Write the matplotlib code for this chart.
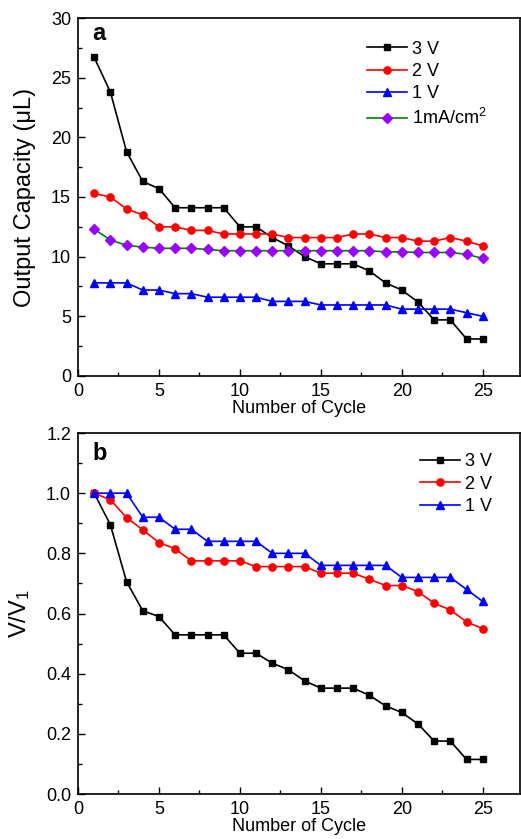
import matplotlib
matplotlib.use("Agg")
import matplotlib.pyplot as plt
from matplotlib.ticker import MultipleLocator

plt.rcParams['font.family'] = ['Liberation Sans', 'DejaVu Sans']
plt.rcParams['mathtext.fontset'] = 'custom'
plt.rcParams['mathtext.rm'] = 'Liberation Sans'
plt.rcParams['mathtext.it'] = 'Liberation Sans:italic'

cycles = list(range(1, 26))

# panel a: output capacity (uL)
cap_3v = [26.7, 23.8, 18.8, 16.3, 15.7, 14.1, 14.1, 14.1, 14.1, 12.5,
          12.5, 11.6, 10.9, 10.0, 9.4, 9.4, 9.4, 8.8, 7.8, 7.2,
          6.2, 4.7, 4.7, 3.1, 3.1]
cap_2v = [15.3, 15.0, 14.0, 13.5, 12.5, 12.5, 12.2, 12.2, 11.9, 11.9,
          11.9, 11.9, 11.6, 11.6, 11.6, 11.6, 11.9, 11.9, 11.6, 11.6,
          11.3, 11.3, 11.6, 11.3, 10.9]
cap_1v = [7.8, 7.8, 7.8, 7.2, 7.2, 6.9, 6.9, 6.6, 6.6, 6.6,
          6.6, 6.25, 6.25, 6.25, 5.95, 5.95, 5.95, 5.95, 5.95, 5.6,
          5.6, 5.6, 5.6, 5.3, 5.0]
cap_1ma = [12.3, 11.4, 10.95, 10.8, 10.7, 10.7, 10.7, 10.6, 10.5, 10.5,
           10.5, 10.5, 10.5, 10.5, 10.5, 10.5, 10.5, 10.5, 10.4, 10.4,
           10.35, 10.35, 10.35, 10.2, 9.85]

# panel b: normalised V/V1
norm_3v = [1.0, 0.895, 0.706, 0.609, 0.59, 0.529, 0.529, 0.529, 0.529, 0.468,
           0.468, 0.435, 0.413, 0.376, 0.352, 0.352, 0.352, 0.328, 0.293, 0.271,
           0.233, 0.176, 0.176, 0.115, 0.115]
norm_2v = [1.0, 0.978, 0.919, 0.878, 0.836, 0.815, 0.775, 0.775, 0.775, 0.775,
           0.756, 0.756, 0.756, 0.756, 0.734, 0.734, 0.734, 0.714, 0.693, 0.693,
           0.673, 0.634, 0.612, 0.572, 0.55]
norm_1v = [1.0, 1.0, 1.0, 0.92, 0.92, 0.88, 0.88, 0.84, 0.84, 0.84,
           0.84, 0.80, 0.80, 0.80, 0.76, 0.76, 0.76, 0.76, 0.76, 0.72,
           0.72, 0.72, 0.72, 0.68, 0.64]

fig = plt.figure(figsize=(5.21, 8.39), dpi=100)
ax1 = fig.add_axes([0.1497, 0.5519, 0.8483, 0.4266])
ax2 = fig.add_axes([0.1497, 0.0536, 0.8483, 0.4303])

lw = 1.2
ms = 5.2

ax1.plot(cycles, cap_3v, color='black', marker='s', ms=4.8, lw=lw, label='3 V')
ax1.plot(cycles, cap_2v, color='red', marker='o', ms=ms, lw=lw, label='2 V')
ax1.plot(cycles, cap_1v, color='blue', marker='^', ms=ms + 0.6, lw=lw, label='1 V')
ax1.plot(cycles, cap_1ma, color='#008000', marker='D', ms=4.8, lw=lw,
         mfc='#9a00ff', mec='#9a00ff', label='1mA/cm$^2$')

ax2.plot(cycles, norm_3v, color='black', marker='s', ms=4.8, lw=lw, label='3 V')
ax2.plot(cycles, norm_2v, color='red', marker='o', ms=ms, lw=lw, label='2 V')
ax2.plot(cycles, norm_1v, color='blue', marker='^', ms=ms + 0.6, lw=lw, label='1 V')

ax1.set_ylim(0, 30)
ax1.yaxis.set_major_locator(MultipleLocator(5))
ax1.yaxis.set_minor_locator(MultipleLocator(2.5))
ax1.set_ylabel('Output Capacity (\u03bcL)', fontsize=17, labelpad=11)

ax2.set_ylim(0, 1.2)
ax2.yaxis.set_major_locator(MultipleLocator(0.2))
ax2.yaxis.set_minor_locator(MultipleLocator(0.1))
ax2.yaxis.set_major_formatter(plt.FormatStrFormatter('%.1f'))
ax2.set_ylabel('V/V$_1$', fontsize=17, labelpad=10)

for ax in (ax1, ax2):
    ax.set_xlim(0, 27.3)
    ax.xaxis.set_major_locator(MultipleLocator(5))
    ax.xaxis.set_minor_locator(MultipleLocator(2.5))
    ax.set_xlabel('Number of Cycle', fontsize=13, labelpad=0)
    ax.tick_params(which='major', direction='in', length=5, width=1.0,
                   labelsize=13, pad=5)
    ax.tick_params(which='minor', direction='in', length=3, width=1.0)
    for sp in ax.spines.values():
        sp.set_linewidth(1.2)

ax1.text(0.032, 0.9385, 'a', transform=ax1.transAxes, fontsize=17,
         fontweight='bold', va='baseline')
ax2.text(0.032, 0.925, 'b', transform=ax2.transAxes, fontsize=17,
         fontweight='bold', va='baseline')

ax1.legend(loc='upper left', bbox_to_anchor=(0.654, 0.937), frameon=False,
           fontsize=13, borderpad=0, borderaxespad=0, handlelength=2.2,
           handletextpad=0.3, labelspacing=0.3)
ax2.legend(loc='upper left', bbox_to_anchor=(0.774, 0.944), frameon=False,
           fontsize=13, borderpad=0, borderaxespad=0, handlelength=2.2,
           handletextpad=0.3, labelspacing=0.3)

fig.savefig('out.png', dpi=100)
